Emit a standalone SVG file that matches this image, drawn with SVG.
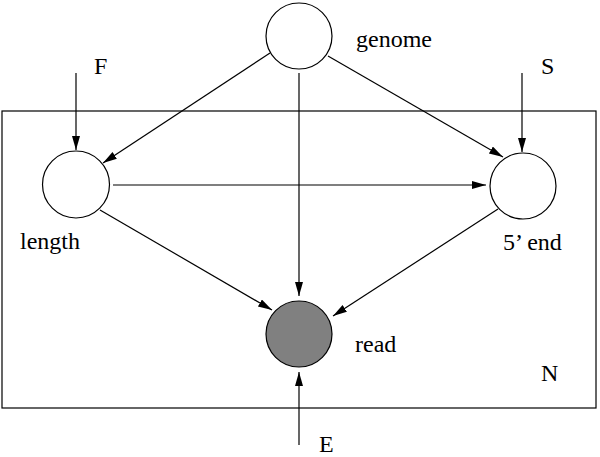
<svg xmlns="http://www.w3.org/2000/svg" width="600" height="457" viewBox="0 0 600 457">
<defs>
<marker id="ah" markerUnits="userSpaceOnUse" markerWidth="16" markerHeight="10" refX="14" refY="4" orient="auto">
<path d="M0,0 L14,4 L0,8 Z" fill="#000"/>
</marker>
<style>
.node{fill:#fff;stroke:#000;stroke-width:1.2}
.obs{fill:#808080;stroke:#000;stroke-width:1.2}
.edge{stroke:#000;stroke-width:1.2;fill:none;marker-end:url(#ah)}
.lbl{font-family:'Liberation Serif','Times New Roman',serif;font-size:24px;fill:#000}
</style>
</defs>
<rect id="plate" x="2" y="111" width="594" height="297" fill="none" stroke="#000" stroke-width="1.2"/>
<g id="connectors">
<line class="edge" x1="76" y1="73" x2="76" y2="150"/>
<line class="edge" x1="522" y1="73" x2="522" y2="152"/>
<line class="edge" x1="270" y1="53" x2="103" y2="163"/>
<line class="edge" x1="299" y1="73" x2="299" y2="296"/>
<line class="edge" x1="328" y1="56" x2="503" y2="157"/>
<line class="edge" x1="113" y1="185" x2="486" y2="185"/>
<line class="edge" x1="100" y1="210" x2="272" y2="310"/>
<line class="edge" x1="498" y1="209" x2="333" y2="316"/>
<line class="edge" x1="299" y1="445" x2="299" y2="372"/>
</g>
<g id="genome"><circle class="node" cx="299" cy="36" r="33"/><text class="lbl" x="356" y="47">genome</text></g>
<g id="length"><circle class="node" cx="76" cy="184.5" r="33.5"/><text class="lbl" x="20" y="249">length</text></g>
<g id="end5"><circle class="node" cx="523" cy="186" r="33"/><text class="lbl" x="503" y="250">5’ end</text></g>
<g id="read"><circle class="obs" cx="299" cy="334" r="33"/><text class="lbl" x="355" y="352">read</text></g>
<g id="F"><text class="lbl" x="94" y="74">F</text></g>
<g id="S"><text class="lbl" x="541" y="74">S</text></g>
<g id="E"><text class="lbl" x="319" y="452">E</text></g>
<g id="N"><text class="lbl" x="541" y="381">N</text></g>
</svg>
